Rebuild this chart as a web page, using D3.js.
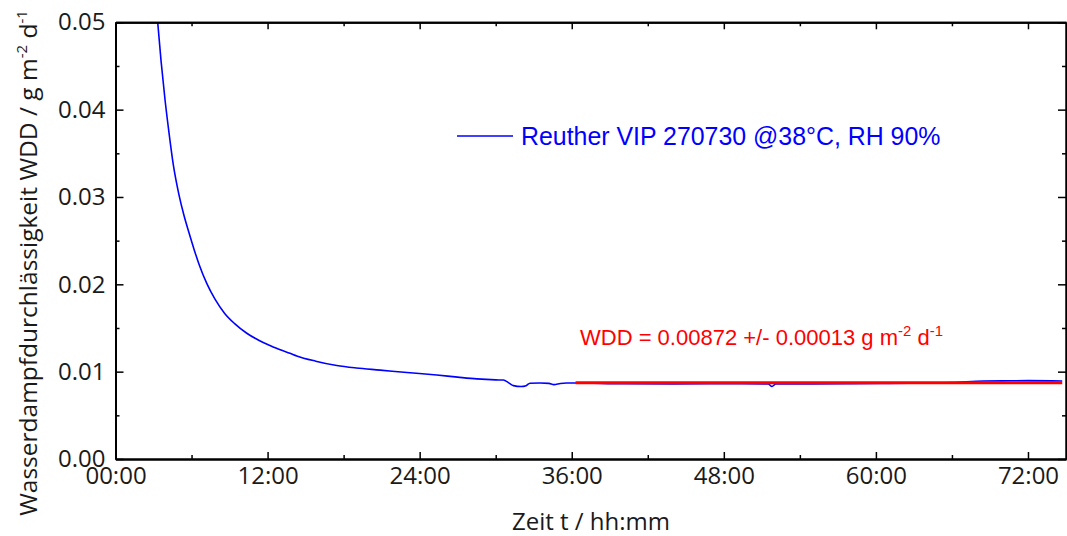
<!DOCTYPE html>
<html>
<head>
<meta charset="utf-8">
<script src="https://cdn.jsdelivr.net/npm/d3@7"></script>
<style>
  html, body { margin: 0; padding: 0; background: #fff; }
  svg { display: block; }
</style>
</head>
<body>
<svg id="chart" width="1067" height="536"></svg>
<script>
// ---- data ----
const timeHours = [3.33, 3.6, 3.91, 4.2, 4.56, 5.0, 5.4, 5.8, 6.2, 6.59, 7.2, 7.85, 8.6, 9.4, 10.36, 11.3, 12.19, 13.0, 13.77, 14.3, 15.8, 17.46, 19.0, 20.88, 23.0, 25.35, 27.0, 28.51, 30.0, 30.61, 31.0, 31.4, 32.0, 32.4, 32.7, 33.5, 34.2, 34.6, 35.1, 35.6, 36.3, 40, 44, 48, 51.5, 51.8, 52.1, 55, 58, 61, 64, 66, 68.5, 70, 72, 74.7];
const wddValues = [0.0500, 0.0455, 0.0411, 0.0376, 0.0337, 0.0303, 0.0279, 0.0259, 0.0240, 0.0223, 0.0201, 0.0183, 0.0167, 0.0155, 0.0144, 0.0136, 0.0130, 0.0125, 0.0121, 0.0118, 0.0112, 0.01070, 0.01042, 0.01018, 0.00990, 0.00961, 0.00937, 0.00917, 0.00906, 0.00904, 0.00875, 0.00840, 0.00830, 0.00840, 0.00868, 0.00870, 0.00866, 0.00852, 0.00865, 0.00870, 0.00870, 0.00862, 0.00860, 0.00862, 0.00860, 0.00830, 0.00858, 0.00860, 0.00862, 0.00865, 0.00870, 0.00875, 0.00893, 0.00895, 0.00897, 0.00893];
const fitTimes = [36.3, 74.7];
const fitValues = [0.00872, 0.00872];
const xMajorTicks = [0, 12, 24, 36, 48, 60, 72];
const xMinorTicks = [6, 18, 30, 42, 54, 66];
const yMajorTicks = [0, 0.01, 0.02, 0.03, 0.04, 0.05];
const yMinorTicks = [0.005, 0.015, 0.025, 0.035, 0.045];
const legendLabel = "Reuther VIP 270730 @38°C, RH 90%";

// ---- layout ----
const L = 115.5, R = 1066, T = 22.3, B = 459;
const svg = d3.select("#chart");
const x = d3.scaleLinear().domain([0, 75]).range([L, R]);
const y = d3.scaleLinear().domain([0, 0.05]).range([B, T]);
const axisFont = "'Open Sans', 'Noto Sans', sans-serif";
const txtCol = "#1a1a1a";

const pad2 = n => String(n).padStart(2, "0");
const fmtTime = h => pad2(Math.floor(h)) + ":" + pad2(Math.round((h % 1) * 60));

svg.append("defs").append("clipPath").attr("id", "clip")
  .append("rect").attr("x", L).attr("y", T).attr("width", R - L).attr("height", B - T);

// data lines
const pts = timeHours.map((t, i) => [t, wddValues[i]]);
const smooth = d3.line().curve(d3.curveMonotoneX).x(d => x(d[0])).y(d => y(d[1]));
const line = d3.line().x(d => x(d[0])).y(d => y(d[1]));
svg.append("path").datum(pts)
  .attr("clip-path", "url(#clip)")
  .attr("fill", "none").attr("stroke", "#0000ff").attr("stroke-width", 1.6)
  .attr("d", smooth);

const fitPts = fitTimes.map((t, i) => [t, fitValues[i]]);
svg.append("path").datum(fitPts)
  .attr("fill", "none").attr("stroke", "#ff0000").attr("stroke-width", 3)
  .attr("d", line);

// axes
function styleAxis(g) {
  g.select(".domain").attr("stroke", "#000").attr("stroke-width", 2);
  g.selectAll(".tick line").attr("stroke", "#000").attr("stroke-width", 1.5);
  g.selectAll(".tick text").attr("fill", txtCol).style("font-family", axisFont).style("font-size", "24px");
}
// bottom
svg.append("g").attr("transform", `translate(0,${B})`)
  .call(d3.axisBottom(x).tickValues(xMajorTicks).tickFormat(fmtTime).tickSizeInner(-7).tickSizeOuter(0).tickPadding(8))
  .call(styleAxis);
svg.append("g").attr("transform", `translate(0,${B})`)
  .call(d3.axisBottom(x).tickValues(xMinorTicks).tickFormat("").tickSizeInner(-4).tickSizeOuter(0))
  .call(styleAxis);
// top
svg.append("g").attr("transform", `translate(0,${T})`)
  .call(d3.axisTop(x).tickValues(xMajorTicks).tickFormat("").tickSizeInner(-7).tickSizeOuter(0))
  .call(styleAxis);
svg.append("g").attr("transform", `translate(0,${T})`)
  .call(d3.axisTop(x).tickValues(xMinorTicks).tickFormat("").tickSizeInner(-4).tickSizeOuter(0))
  .call(styleAxis);
// left
svg.append("g").attr("transform", `translate(${L},0)`)
  .call(d3.axisLeft(y).tickValues(yMajorTicks).tickFormat(d3.format(".2f")).tickSizeInner(-8).tickSizeOuter(0).tickPadding(10))
  .call(styleAxis);
svg.append("g").attr("transform", `translate(${L},0)`)
  .call(d3.axisLeft(y).tickValues(yMinorTicks).tickFormat("").tickSizeInner(-4).tickSizeOuter(0))
  .call(styleAxis);
// right
svg.append("g").attr("transform", `translate(${R},0)`)
  .call(d3.axisRight(y).tickValues(yMajorTicks).tickFormat("").tickSizeInner(-8).tickSizeOuter(0))
  .call(styleAxis);
svg.append("g").attr("transform", `translate(${R},0)`)
  .call(d3.axisRight(y).tickValues(yMinorTicks).tickFormat("").tickSizeInner(-4).tickSizeOuter(0))
  .call(styleAxis);

// axis titles
svg.append("text")
  .attr("x", 591).attr("y", 530).attr("text-anchor", "middle")
  .attr("fill", txtCol).style("font-family", axisFont).style("font-size", "24px")
  .text("Zeit t / hh:mm");

const yt = svg.append("text")
  .attr("transform", "translate(37,263) rotate(-90)")
  .attr("text-anchor", "middle")
  .attr("fill", txtCol).style("font-family", axisFont).style("font-size", "24.5px");
yt.append("tspan").text("Wasserdampfdurchlässigkeit WDD / g m");
yt.append("tspan").attr("dy", -10).style("font-size", "15px").text("-2");
yt.append("tspan").attr("dy", 10).text(" d");
yt.append("tspan").attr("dy", -10).style("font-size", "15px").text("-1");

// legend
const legFont = "'Liberation Sans', Arial, sans-serif";
svg.append("line").attr("x1", 457).attr("x2", 513).attr("y1", 136).attr("y2", 136)
  .attr("stroke", "#0000ff").attr("stroke-width", 1.6);
svg.append("text").attr("x", 521).attr("y", 145)
  .attr("fill", "#0000ff").style("font-family", legFont).style("font-size", "24.9px")
  .text(legendLabel);

// fit annotation
const ann = svg.append("text").attr("x", 580).attr("y", 345)
  .attr("fill", "#ff0000").style("font-family", legFont).style("font-size", "22px");
ann.append("tspan").text("WDD = " + fitValues[0].toFixed(5) + " +/- 0.00013 g m");
ann.append("tspan").attr("dy", -9).style("font-size", "15px").text("-2");
ann.append("tspan").attr("dy", 9).text(" d");
ann.append("tspan").attr("dy", -9).style("font-size", "15px").text("-1");
</script>
</body>
</html>
